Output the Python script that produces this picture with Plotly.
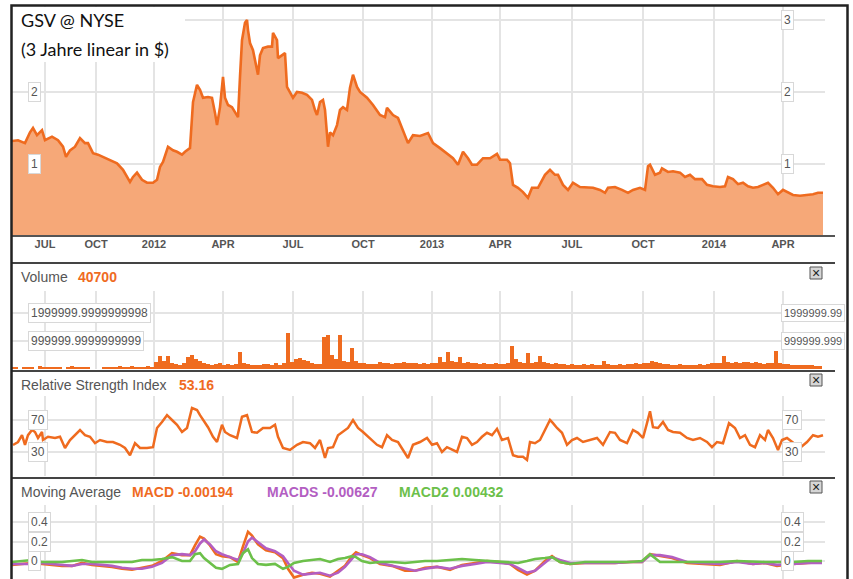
import plotly.graph_objects as go

# ---------------- data ----------------
tick_days = [33, 84, 142, 211, 281, 351, 420, 488, 560, 631, 702, 771]
tick_text = ["JUL", "OCT", "2012", "APR", "JUL", "OCT", "2013", "APR", "JUL", "OCT", "2014", "APR"]

price_day = [0, 6, 13, 18, 21, 25, 30, 33, 40, 46, 51, 54, 58, 63, 68, 73, 76, 81, 86, 91, 98, 105, 111, 118,
             121, 125, 130, 135, 141, 145, 148, 151, 156, 161, 165, 170, 173, 178, 181, 185, 188, 191, 196, 200,
             203, 205, 208, 211, 213, 216, 220, 223, 226, 228, 230, 233, 235, 236, 238, 241, 245, 246, 248, 251,
             256, 260, 261, 265, 266, 270, 273, 275, 278, 281, 285, 290, 295, 300, 303, 305, 308, 311, 313, 315,
             316, 318, 321, 325, 328, 331, 335, 338, 341, 345, 348, 355, 361, 368, 373, 375, 381, 386, 391, 396,
             401, 408, 416, 421, 428, 435, 441, 446, 451, 456, 460, 465, 471, 478, 485, 488, 495, 498, 501, 506,
             511, 516, 520, 526, 533, 538, 543, 546, 551, 556, 561, 568, 575, 581, 588, 593, 596, 603, 610, 616,
             621, 628, 633, 636, 638, 643, 648, 650, 656, 661, 668, 673, 678, 683, 690, 695, 701, 708, 713, 716,
             721, 726, 731, 736, 741, 746, 751, 756, 761, 766, 771, 776, 781, 788, 795, 801, 806, 811]
price_usd = [1.32, 1.33, 1.29, 1.44, 1.50, 1.40, 1.47, 1.33, 1.38, 1.33, 1.24, 1.10, 1.19, 1.24, 1.36, 1.29, 1.29,
             1.15, 1.13, 1.10, 1.06, 1.01, 0.92, 0.75, 0.82, 0.88, 0.78, 0.74, 0.74, 0.78, 0.96, 1.03, 1.24, 1.19,
             1.17, 1.13, 1.17, 1.22, 1.86, 2.10, 2.03, 1.92, 1.93, 1.92, 1.71, 1.54, 1.79, 2.21, 1.92, 1.82, 1.79,
             1.71, 1.65, 2.21, 2.72, 2.96, 3.00, 2.86, 2.68, 2.58, 2.28, 2.24, 2.51, 2.61, 2.63, 2.63, 2.82, 2.72,
             2.47, 2.51, 2.54, 2.07, 1.99, 1.92, 2.00, 1.99, 1.96, 1.89, 1.75, 1.68, 1.86, 1.89, 1.75, 1.43, 1.24,
             1.44, 1.40, 1.54, 1.75, 1.79, 1.75, 2.06, 2.24, 2.07, 2.00, 1.92, 1.82, 1.68, 1.65, 1.78, 1.68, 1.64,
             1.47, 1.29, 1.40, 1.39, 1.43, 1.29, 1.22, 1.15, 1.08, 0.99, 1.17, 1.08, 0.99, 0.99, 1.08, 1.08, 1.14,
             1.06, 1.06, 1.01, 0.71, 0.67, 0.61, 0.53, 0.67, 0.67, 0.85, 0.92, 0.85, 0.85, 0.71, 0.64, 0.74, 0.68,
             0.67, 0.67, 0.64, 0.60, 0.67, 0.68, 0.64, 0.60, 0.64, 0.67, 0.64, 0.97, 0.99, 0.85, 0.88, 0.94, 0.89,
             0.90, 0.88, 0.82, 0.85, 0.79, 0.79, 0.71, 0.69, 0.68, 0.69, 0.82, 0.79, 0.72, 0.74, 0.69, 0.67, 0.68,
             0.71, 0.74, 0.67, 0.58, 0.64, 0.61, 0.57, 0.56, 0.57, 0.58, 0.60, 0.60]

volume_step = 4  # one bar every 4 sessions
volume_k = [70, 60, 0, 80, 60, 70, 0, 90, 60, 50,
            80, 60, 70, 0, 50, 90, 60, 80, 70, 60,
            0, 0, 0, 60, 80, 70, 60, 90, 80, 70,
            100, 80, 60, 70, 90, 80, 250, 460, 300, 450,
            200, 180, 150, 200, 420, 500, 350, 300, 200, 180,
            150, 170, 200, 160, 180, 150, 180, 600, 200, 170,
            160, 150, 140, 180, 170, 150, 200, 160, 200, 1280,
            250, 350, 400, 330, 300, 200, 180, 170, 1150, 1200,
            500, 350, 1200, 300, 250, 750, 300, 200, 200, 180,
            170, 180, 250, 200, 220, 190, 230, 200, 240, 210,
            200, 230, 180, 200, 170, 220, 200, 430, 250, 600,
            300, 250, 430, 220, 250, 200, 230, 190, 200, 180,
            170, 200, 190, 180, 200, 820, 350, 250, 220, 570,
            200, 250, 450, 250, 220, 190, 200, 180, 170, 160,
            170, 150, 160, 180, 150, 170, 160, 150, 300, 170,
            160, 150, 170, 160, 180, 170, 200, 180, 200, 220,
            300, 250, 200, 180, 170, 160, 150, 170, 160, 150,
            160, 150, 170, 160, 180, 200, 230, 200, 450, 250,
            230, 250, 200, 260, 240, 220, 250, 200, 180, 200,
            200, 640, 200, 180, 170, 160, 150, 160, 140, 150,
            130, 120, 110]
volume_day = [i * volume_step for i in range(len(volume_k))]

rsi_day = [1, 6, 10, 13, 16, 20, 23, 26, 30, 31, 36, 43, 48, 53, 58, 63, 68, 73, 78, 83, 88, 95, 101, 108, 113,
           118, 123, 128, 135, 141, 145, 150, 155, 160, 165, 170, 175, 180, 185, 188, 191, 196, 201, 205, 210, 213,
           218, 225, 230, 235, 240, 245, 251, 258, 263, 266, 271, 278, 285, 291, 298, 303, 308, 313, 316, 321, 326,
           331, 336, 341, 346, 351, 358, 365, 370, 375, 380, 386, 391, 396, 401, 408, 415, 420, 425, 430, 435, 440,
           445, 450, 455, 460, 465, 470, 475, 480, 485, 490, 496, 501, 506, 511, 515, 518, 523, 528, 533, 538, 541,
           545, 550, 555, 560, 565, 571, 578, 585, 591, 598, 603, 608, 615, 621, 626, 631, 635, 638, 641, 646, 651,
           656, 661, 668, 675, 681, 688, 695, 700, 705, 711, 717, 723, 728, 733, 738, 743, 748, 753, 756, 761, 766,
           770, 775, 788, 795, 801, 806, 811]
rsi_val = [38.8, 42.5, 51, 39, 51, 57.5, 55, 47.5, 55, 45, 49, 47.5, 49, 35, 45, 51, 57.5, 51, 49, 41, 45, 42.5,
           42.5, 39, 35, 26, 41, 35, 35, 36, 60, 67.5, 76, 70, 64, 55, 60, 85, 82.5, 76, 70, 61, 49, 42.5, 64, 55,
           51, 47.5, 74, 76, 55, 54, 60, 60, 64, 49, 35, 32.5, 39, 42.5, 41, 35, 45, 22.5, 35, 36, 51, 55, 60, 70,
           60, 55, 47.5, 39, 36, 51, 45, 42.5, 32.5, 22.5, 39, 42.5, 47.5, 39, 41, 30, 36, 32.5, 30, 49, 47.5, 39,
           42.5, 49, 54, 51, 59, 45, 47.5, 26, 24, 24, 20, 42.5, 41, 45, 57.5, 70, 66, 60, 54, 39, 45, 47.5, 42.5,
           45, 47.5, 39, 55, 54, 45, 41, 57.5, 54, 47.5, 66, 81, 61, 60, 67.5, 57.5, 55, 54, 47.5, 45, 47.5, 42.5,
           36, 42.5, 41, 66, 60, 47.5, 51, 39, 36, 51, 45, 57.5, 47.5, 32.5, 45, 47.5, 35, 42.5, 51, 49, 51]

macd_day = [0, 10, 20, 30, 40, 50, 60, 70, 80, 90, 100, 110, 120, 130, 140, 150, 160, 170, 178, 183, 188, 192, 198,
            204, 210, 218, 226, 231, 236, 240, 246, 254, 263, 271, 276, 282, 291, 300, 308, 318, 326, 333, 340, 344,
            350, 358, 368, 380, 393, 403, 413, 425, 438, 450, 463, 475, 488, 498, 506, 515, 523, 533, 540, 548, 558,
            573, 588, 603, 618, 630, 638, 648, 660, 675, 688, 708, 725, 741, 753, 765, 781, 796, 810]
macd = [-0.04, -0.03, -0.02, -0.03, -0.04, -0.05, -0.05, -0.02, -0.04, -0.05,
        -0.06, -0.08, -0.09, -0.07, -0.05, 0.00, 0.08, 0.06, 0.06, 0.16,
        0.25, 0.23, 0.16, 0.07, 0.05, 0.04, -0.01, 0.15, 0.30, 0.26,
        0.17, 0.11, 0.09, 0.03, -0.08, -0.17, -0.14, -0.12, -0.13, -0.16,
        -0.10, -0.05, 0.05, 0.09, 0.06, 0.03, -0.03, -0.05, -0.10, -0.10,
        -0.07, -0.06, -0.09, -0.04, -0.02, 0.00, -0.01, -0.03, -0.09, -0.14,
        -0.10, 0.00, 0.05, -0.01, -0.03, -0.02, -0.02, -0.02, -0.01, -0.01,
        0.07, 0.05, 0.03, -0.02, -0.03, -0.04, 0.00, -0.03, -0.02, -0.05,
        -0.03, -0.02, -0.01]
macds = [-0.03, -0.03, -0.03, -0.02, -0.03, -0.04, -0.05, -0.03, -0.03, -0.04,
         -0.05, -0.07, -0.08, -0.08, -0.06, -0.02, 0.06, 0.07, 0.06, 0.10,
         0.18, 0.22, 0.17, 0.10, 0.07, 0.04, 0.01, 0.08, 0.20, 0.24,
         0.19, 0.13, 0.10, 0.05, -0.02, -0.10, -0.14, -0.13, -0.12, -0.15,
         -0.12, -0.06, 0.03, 0.07, 0.07, 0.04, -0.02, -0.05, -0.08, -0.10,
         -0.08, -0.06, -0.08, -0.05, -0.03, -0.01, -0.02, -0.03, -0.07, -0.12,
         -0.10, -0.02, 0.04, 0.01, -0.02, -0.02, -0.02, -0.02, -0.01, -0.01,
         0.06, 0.06, 0.04, -0.01, -0.02, -0.03, -0.01, -0.03, -0.02, -0.04,
         -0.03, -0.02, -0.02]
macd2 = [-0.01, 0.00, 0.01, -0.01, -0.01, -0.01, 0.00, 0.01, -0.01, -0.01,
         -0.01, -0.01, -0.01, 0.01, 0.01, 0.02, 0.04, 0.00, 0.00, 0.07,
         0.08, 0.03, -0.02, -0.07, -0.08, -0.04, -0.03, 0.08, 0.12, 0.03,
         -0.03, -0.04, -0.03, -0.08, -0.06, -0.02, 0.00, 0.01, 0.02, -0.01,
         0.02, 0.03, 0.05, 0.04, 0.00, -0.02, -0.01, -0.01, -0.02, -0.01,
         0.00, 0.00, 0.01, 0.02, 0.01, 0.00, -0.01, -0.02, -0.02, 0.00,
         0.02, 0.03, 0.04, -0.01, -0.03, -0.01, -0.01, -0.01, -0.01, 0.00,
         0.07, -0.01, -0.01, -0.01, -0.01, -0.01, 0.00, -0.01, -0.01, -0.01,
         -0.01, 0.00, 0.00]

# ---------------- styling / layout helpers ----------------
W, H = 853, 579


def fx(p):
    return p / W


def fy(p):
    return 1 - p / H


ORANGE = "#EF6B1F"
FILL = "#F6A878"
PURPLE = "#B35EC2"
GREEN = "#6CC04A"
GRID = "#E4E4E4"
TXT = "#555555"
FONT = "Liberation Sans, Arial, sans-serif"

fig = go.Figure()
fig.add_trace(go.Scatter(x=price_day, y=price_usd, mode="lines", line=dict(color=ORANGE, width=2.6),
                         fill="tozeroy", fillcolor=FILL, xaxis="x", yaxis="y", hoverinfo="skip"))
fig.add_trace(go.Bar(x=volume_day, y=[v * 1000 for v in volume_k], width=volume_step,
                     marker=dict(color=ORANGE, line=dict(width=0)), xaxis="x2", yaxis="y2", hoverinfo="skip"))
fig.add_trace(go.Scatter(x=rsi_day, y=rsi_val, mode="lines", line=dict(color=ORANGE, width=2.5),
                         xaxis="x3", yaxis="y3", hoverinfo="skip"))
fig.add_trace(go.Scatter(x=macd_day, y=macd, mode="lines", line=dict(color=ORANGE, width=2.6),
                         xaxis="x4", yaxis="y4", hoverinfo="skip"))
fig.add_trace(go.Scatter(x=macd_day, y=macds, mode="lines", line=dict(color=PURPLE, width=2.6),
                         xaxis="x4", yaxis="y4", hoverinfo="skip"))
fig.add_trace(go.Scatter(x=macd_day, y=macd2, mode="lines", line=dict(color=GREEN, width=2.6),
                         xaxis="x4", yaxis="y4", hoverinfo="skip"))

xdom = [fx(12), fx(825)]
xcommon = dict(domain=xdom, range=[0, 813], tickvals=tick_days, showgrid=True, gridcolor=GRID,
               gridwidth=1.5, zeroline=False, showline=False, ticks="")
ycommon = dict(showticklabels=False, showgrid=True, gridcolor=GRID, gridwidth=1.5, zeroline=False,
               showline=False, ticks="")

fig.update_layout(
    width=W, height=H, margin=dict(l=0, r=0, t=0, b=0),
    paper_bgcolor="white", plot_bgcolor="white", showlegend=False, bargap=0,
    xaxis=dict(**xcommon, anchor="y", ticktext=["<b>%s</b>" % t for t in tick_text],
               tickfont=dict(family=FONT, size=11, color=TXT)),
    xaxis2=dict(**xcommon, anchor="y2", showticklabels=False),
    xaxis3=dict(**xcommon, anchor="y3", showticklabels=False),
    xaxis4=dict(**xcommon, anchor="y4", showticklabels=False),
    yaxis=dict(**ycommon, domain=[fy(236), fy(6)], range=[0, 230 / 72], tickvals=[1, 2, 3]),
    yaxis2=dict(**ycommon, domain=[fy(369), fy(291)], range=[0, 78 / 28 * 1e6], tickvals=[1e6, 2e6]),
    yaxis3=dict(**ycommon, domain=[fy(476), fy(396)], range=[0, 100], tickvals=[30, 70]),
    yaxis4=dict(**ycommon, domain=[0, fy(505)], range=[-18 / 97.5, 56 / 97.5], tickvals=[0, 0.2, 0.4]),
)

shapes = []
# white box behind the chart title
shapes.append(dict(type="rect", xref="paper", yref="paper", x0=fx(12), x1=fx(185), y0=fy(62), y1=fy(7),
                   fillcolor="white", line=dict(width=0), layer="above"))
# axis line and panel separators
for yp, col in [(236, "#555555"), (263, "#444444"), (371, "#444444"), (478, "#444444")]:
    shapes.append(dict(type="line", xref="paper", yref="paper", x0=fx(12), x1=fx(835), y0=fy(yp), y1=fy(yp),
                       line=dict(color=col, width=2), layer="above"))
# close buttons
for yc in [273, 380, 487]:
    shapes.append(dict(type="rect", xref="paper", yref="paper", x0=fx(810), x1=fx(822), y0=fy(yc + 6),
                       y1=fy(yc - 6), fillcolor="#D6D6D6", line=dict(color="#555555", width=1), layer="above"))
# outer frame
shapes.append(dict(type="rect", xref="paper", yref="paper", x0=fx(11.5), x1=fx(847.5), y0=fy(600), y1=fy(5.5),
                   fillcolor="rgba(0,0,0,0)", line=dict(color="#222222", width=2.5), layer="above"))

ann = []


def box_label(text, xp, yref, yval, size=12):
    ann.append(dict(text=text, x=fx(xp), xref="paper", xanchor="left", y=yval, yref=yref, yanchor="middle",
                    showarrow=False, font=dict(family=FONT, size=size, color=TXT), bgcolor="white",
                    bordercolor="#D8D8D8", borderwidth=1, borderpad=2))


def text_label(text, xp, yp, size=14, color=TXT, family=FONT):
    ann.append(dict(text=text, x=fx(xp), xref="paper", xanchor="left", y=fy(yp), yref="paper",
                    yanchor="middle", showarrow=False, font=dict(family=family, size=size, color=color)))


# price panel
text_label("GSV @ NYSE", 19, 20, size=18, color="#111111", family="Lato, sans-serif")
text_label("(3 Jahre linear in $)", 19, 49, size=18, color="#111111", family="Lato, sans-serif")
for v in [1, 2]:
    box_label(str(v), 28, "y", v)
for v in [1, 2, 3]:
    box_label(str(v), 781, "y", v)

# volume panel
text_label("Volume", 19, 277)
text_label("<b>40700</b>", 76, 277, color=ORANGE)
box_label("1999999.9999999998", 28, "y2", 2e6)
box_label("999999.9999999999", 28, "y2", 1e6)
box_label("1999999.99", 781, "y2", 2e6, size=11)
box_label("999999.999", 781, "y2", 1e6, size=11)

# RSI panel
text_label("Relative Strength Index", 19, 385)
text_label("<b>53.16</b>", 177, 385, color=ORANGE)
for v in [30, 70]:
    box_label(str(v), 28, "y3", v)
    box_label(str(v), 782, "y3", v)

# MACD panel
text_label("Moving Average", 19, 492)
text_label("<b>MACD -0.00194</b>", 130, 492, color=ORANGE)
text_label("<b>MACDS -0.00627</b>", 265, 492, color=PURPLE)
text_label("<b>MACD2 0.00432</b>", 397, 492, color=GREEN)
for v, s in [(0, "0"), (0.2, "0.2"), (0.4, "0.4")]:
    box_label(s, 28, "y4", v)
    box_label(s, 781, "y4", v)

# close button glyphs
for yc in [273, 380, 487]:
    ann.append(dict(text="×", x=fx(816), xref="paper", xanchor="center", y=fy(yc), yref="paper",
                    yanchor="middle", showarrow=False, font=dict(family=FONT, size=14, color="#222222")))

fig.update_layout(shapes=shapes, annotations=ann)
fig.write_html("out.html", config={"displayModeBar": False},
               post_script="document.body.style.margin='0';document.body.style.overflow='hidden';")
